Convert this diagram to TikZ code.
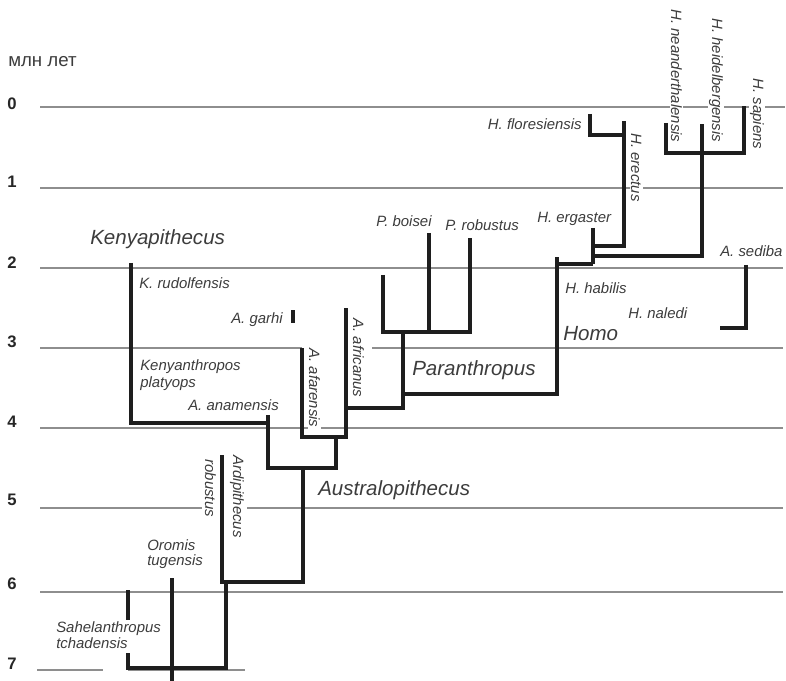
\documentclass[tikz,border=0pt]{standalone}
\usepackage{fontspec}
\setmainfont{Liberation Sans}
\definecolor{txt}{HTML}{3C3C3C}
\definecolor{gridc}{HTML}{8E8E8E}
\definecolor{branch}{HTML}{1E1E1E}
\begin{document}
\begin{tikzpicture}[x=0.75pt,y=-0.75pt,
  gridline/.style={draw=gridc,line width=1.2pt},
  branchline/.style={draw=branch,line width=2.3pt,line join=miter},
  sp/.style={font=\fontsize{11.2pt}{13pt}\selectfont\itshape,text=txt,inner sep=0pt},
  big/.style={font=\fontsize{15.4pt}{18pt}\selectfont\itshape,text=txt,inner sep=0pt},
  num/.style={font=\fontsize{12.5pt}{14pt}\selectfont\bfseries,text=black!85,inner sep=0pt,anchor=base west},
  vlab/.style={sp,rotate=-90,anchor=base west,fill=white,inner sep=1pt}]
\useasboundingbox (0,0) rectangle (786,681);
% time grid
\draw[gridline] (40,107) -- (785,107);
\draw[gridline] (40,188) -- (783,188);
\draw[gridline] (40,268) -- (783,268);
\draw[gridline] (40,348) -- (302,348);
\draw[gridline] (372,348) -- (783,348);
\draw[gridline] (40,428) -- (783,428);
\draw[gridline] (40,508) -- (202,508);
\draw[gridline] (247,508) -- (783,508);
\draw[gridline] (40,592) -- (783,592);
\draw[gridline] (37,670) -- (103,670);
\draw[gridline] (128,670) -- (245,670);
% axis
\node[font=\fontsize{14pt}{16pt}\selectfont,text=txt,inner sep=0pt,anchor=base west] (unit) at (8,67) {млн лет};
\node[num] (n0) at (7,110) {0};
\node[num] (n1) at (7,188) {1};
\node[num] (n2) at (7,268) {2};
\node[num] (n3) at (7,347) {3};
\node[num] (n4) at (7,427) {4};
\node[num] (n5) at (7,505) {5};
\node[num] (n6) at (7,589) {6};
\node[num] (n7) at (7,669) {7};
% horizontal labels
\node[big,anchor=base west] (kenya) at (90,245) {Kenyapithecus};
\node[sp,anchor=base west] (krud) at (139,288) {K. rudolfensis};
\node[sp,anchor=base east] (garhi) at (283,323) {A. garhi};
\node[sp,anchor=base west] (kplat1) at (140,370) {Kenyanthropos};
\node[sp,anchor=base west] (kplat2) at (140,387) {platyops};
\node[sp,anchor=base west] (anam) at (188,410) {A. anamensis};
\node[sp,anchor=base west] (boisei) at (376,227) {P. boisei};
\node[sp,anchor=base west] (probu) at (445,231) {P. robustus};
\node[sp,anchor=base west] (ergas) at (537,223) {H. ergaster};
\node[sp,anchor=base east] (flores) at (582,130) {H. floresiensis};
\node[sp,anchor=base west] (sediba) at (720,257) {A. sediba};
\node[sp,anchor=base west] (habil) at (565,293) {H. habilis};
\node[sp,anchor=base west] (naledi) at (628,318) {H. naledi};
\node[big,anchor=base west] (homo) at (563,340) {Homo};
\node[big,anchor=base west] (paran) at (412,375) {Paranthropus};
\node[big,anchor=base west] (austr) at (318,495) {Australopithecus};
\node[sp,anchor=base west] (oro1) at (147,550) {Oromis};
\node[sp,anchor=base west] (oro2) at (147,565) {tugensis};
\node[sp,anchor=base west] (sah1) at (56,632) {Sahelanthropus};
\node[sp,anchor=base west] (sah2) at (56,648) {tchadensis};
% vertical labels
\node[vlab] (afar) at (309,347) {A. afarensis};
\node[vlab] (afri) at (353,317) {A. africanus};
\node[vlab] (erec) at (631,132) {H. erectus};
\node[vlab] (nean) at (671,8) {H. neanderthalensis};
\node[vlab] (heid) at (712,17) {H. heidelbergensis};
\node[vlab] (sapi) at (753,77) {H. sapiens};
\node[vlab] (ardi) at (233,454) {Ardipithecus};
\node[vlab] (robu) at (205,458) {robustus};
% branch points
\coordinate (kTop) at (131,263);
\coordinate (kBot) at (131,423);
\coordinate (kJ) at (268,423);
\coordinate (anaTop) at (268,415);
\coordinate (anaBot) at (268,468);
\coordinate (ausJR) at (336,468);
\coordinate (ausJRt) at (336,437);
\coordinate (afaTop) at (302,348);
\coordinate (afaBot) at (302,437);
\coordinate (afrBot) at (346,437);
\coordinate (afrTop) at (346,308);
\coordinate (afrJ) at (346,408);
\coordinate (parRoot) at (403,408);
\coordinate (parJ) at (403,332);
\coordinate (pLTop) at (383,275);
\coordinate (pLBot) at (383,332);
\coordinate (pRBot) at (470,332);
\coordinate (pRTop) at (470,238);
\coordinate (boiTop) at (429,233);
\coordinate (boiBot) at (429,332);
\coordinate (parH) at (403,394);
\coordinate (homoBot) at (557,394);
\coordinate (homoTop) at (557,257);
\coordinate (homoH) at (557,264);
\coordinate (ergBot) at (593,264);
\coordinate (ergTop) at (593,228);
\coordinate (ereJ) at (593,246);
\coordinate (ereBot) at (624,246);
\coordinate (ereTop) at (624,121);
\coordinate (floTop) at (590,114);
\coordinate (floBot) at (590,135);
\coordinate (floJ) at (624,135);
\coordinate (heiJ) at (593,256);
\coordinate (heiBot) at (702,256);
\coordinate (heiTop) at (702,124);
\coordinate (neaTop) at (666,123);
\coordinate (neaBot) at (666,153);
\coordinate (sapBot) at (744,153);
\coordinate (sapTop) at (744,106);
\coordinate (sedTop) at (746,265);
\coordinate (sedBot) at (746,328);
\coordinate (sedEnd) at (720,328);
\coordinate (garTop) at (293,310);
\coordinate (garBot) at (293,323);
\coordinate (ausJ) at (303,468);
\coordinate (ausBot) at (303,582);
\coordinate (ardBot) at (222,582);
\coordinate (ardTop) at (222,455);
\coordinate (rootTop) at (226,582);
\coordinate (rootR) at (226,668);
\coordinate (rootL) at (128,668);
\coordinate (sahLow) at (128,653);
\coordinate (sahTop) at (128,590);
\coordinate (sahMid) at (128,620);
\coordinate (oroTop) at (172,578);
\coordinate (oroBot) at (172,681);
% branches
\draw[branchline] (kTop) -- (kBot) -- (kJ);
\draw[branchline] (anaTop) -- (anaBot) -- (ausJR) -- (ausJRt);
\draw[branchline] (afaTop) -- (afaBot) -- (afrBot) -- (afrTop);
\draw[branchline] (afrJ) -- (parRoot) -- (parJ);
\draw[branchline] (pLTop) -- (pLBot) -- (pRBot) -- (pRTop);
\draw[branchline] (boiTop) -- (boiBot);
\draw[branchline] (parH) -- (homoBot) -- (homoTop);
\draw[branchline] (homoH) -- (ergBot);
\draw[branchline] (ergTop) -- (ergBot);
\draw[branchline] (ereJ) -- (ereBot) -- (ereTop);
\draw[branchline] (floTop) -- (floBot) -- (floJ);
\draw[branchline] (heiJ) -- (heiBot) -- (heiTop);
\draw[branchline] (neaTop) -- (neaBot) -- (sapBot) -- (sapTop);
\draw[branchline] (sedTop) -- (sedBot) -- (sedEnd);
\draw[branchline] (garTop) -- (garBot);
\draw[branchline] (ausJ) -- (ausBot) -- (ardBot) -- (ardTop);
\draw[branchline] (rootTop) -- (rootR) -- (rootL) -- (sahLow);
\draw[branchline] (sahTop) -- (sahMid);
\draw[branchline] (oroTop) -- (oroBot);
\end{tikzpicture}
\end{document}
